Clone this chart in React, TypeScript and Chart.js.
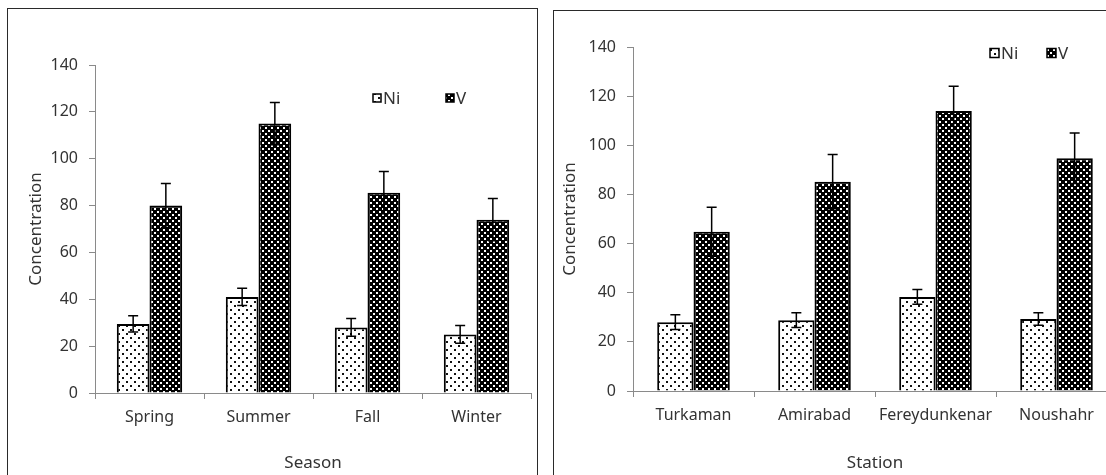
import React, { useEffect, useRef } from "react";
import { Chart, registerables } from "chart.js";

Chart.register(...registerables);

// ---------- data ----------
const seasons = ["Spring", "Summer", "Fall", "Winter"];
const seasonNi = [29.5, 41, 28, 25];
const seasonNiErr = [3.5, 3.7, 3.8, 3.8];
const seasonV = [80, 115, 85.5, 74];
const seasonVErr = [9.4, 9, 9, 9];

const stations = ["Turkaman", "Amirabad", "Fereydunkenar", "Noushahr"];
const stationNi = [28, 28.8, 38.3, 29.3];
const stationNiErr = [3, 3, 3, 2.5];
const stationV = [64.8, 85.2, 114, 94.7];
const stationVErr = [10, 11, 10, 10.3];

const yTicks = [0, 20, 40, 60, 80, 100, 120, 140];
const seriesNames = ["Ni", "V"];

const FONT = "'Noto Sans', 'DejaVu Sans', sans-serif";
const TEXT = "#333333";
const AXIS = "#8a8a8a";

function makeDotPattern(): CanvasPattern | string {
  const c = document.createElement("canvas");
  c.width = 8;
  c.height = 8;
  const g = c.getContext("2d")!;
  g.fillStyle = "#ffffff";
  g.fillRect(0, 0, 8, 8);
  g.fillStyle = "#111111";
  g.fillRect(2, 1, 2, 2);
  g.fillRect(6, 5, 2, 2);
  return g.createPattern(c, "repeat") || "#fff";
}

function makeCheckPattern(): CanvasPattern | string {
  const c = document.createElement("canvas");
  c.width = 6;
  c.height = 6;
  const g = c.getContext("2d")!;
  g.fillStyle = "#000000";
  g.fillRect(0, 0, 6, 6);
  g.fillStyle = "#ffffff";
  g.fillRect(1, 1, 2, 2);
  g.fillRect(4, 4, 2, 2);
  return g.createPattern(c, "repeat") || "#000";
}

const errorBarPlugin = {
  id: "errorBars",
  afterDatasetsDraw(chart: any, _args: any, opts: any) {
    const { ctx } = chart;
    const y = chart.scales.y;
    const errs: number[][] = opts.errors || [];
    ctx.save();
    ctx.strokeStyle = "#000";
    ctx.lineWidth = 1.5;
    chart.data.datasets.forEach((ds: any, i: number) => {
      const meta = chart.getDatasetMeta(i);
      meta.data.forEach((el: any, j: number) => {
        const v = ds.data[j];
        const e = (errs[i] || [])[j] || 0;
        const yt = y.getPixelForValue(v + e);
        const yb = y.getPixelForValue(v - e);
        const x = el.x;
        const cap = opts.cap || 5;
        ctx.beginPath();
        ctx.moveTo(x, yt);
        ctx.lineTo(x, yb);
        ctx.moveTo(x - cap, yt);
        ctx.lineTo(x + cap, yt);
        ctx.moveTo(x - cap, yb);
        ctx.lineTo(x + cap, yb);
        ctx.stroke();
      });
    });
    ctx.restore();
  },
};

const legendPlugin = {
  id: "patternLegend",
  afterDraw(chart: any, _args: any, opts: any) {
    const { ctx } = chart;
    const items: { x: number; label: string }[] = opts.items || [];
    const y = opts.y;
    const box = opts.box || 9;
    ctx.save();
    ctx.font = `${opts.fontSize || 16}px ${FONT}`;
    ctx.textBaseline = "middle";
    ctx.textAlign = "left";
    items.forEach((it, i) => {
      const ds = chart.data.datasets[i];
      ctx.fillStyle = ds.backgroundColor;
      ctx.fillRect(it.x, y - box / 2, box, box);
      ctx.strokeStyle = "#000";
      ctx.lineWidth = 1.5;
      ctx.strokeRect(it.x, y - box / 2, box, box);
      ctx.fillStyle = TEXT;
      ctx.fillText(it.label, it.x + box + 2, y + 1);
    });
    ctx.restore();
  },
};

function buildChart(
  canvas: HTMLCanvasElement,
  labels: string[],
  ni: number[],
  niErr: number[],
  v: number[],
  vErr: number[],
  xTitle: string,
  layout: any
) {
  const dots = makeDotPattern();
  const checks = makeCheckPattern();
  return new Chart(canvas, {
    type: "bar",
    data: {
      labels,
      datasets: [
        {
          label: seriesNames[0],
          data: ni,
          backgroundColor: dots as any,
          borderColor: "#000",
          borderWidth: 2,
          categoryPercentage: 0.6,
          barPercentage: 1.0,
        },
        {
          label: seriesNames[1],
          data: v,
          backgroundColor: checks as any,
          borderColor: "#000",
          borderWidth: 2,
          categoryPercentage: 0.6,
          barPercentage: 1.0,
        },
      ],
    },
    options: {
      animation: false,
      responsive: false,
      maintainAspectRatio: false,
      layout: { padding: layout.padding },
      plugins: {
        legend: { display: false },
        tooltip: { enabled: false },
        errorBars: { errors: [niErr, vErr], cap: 5 },
        patternLegend: layout.legend,
      } as any,
      scales: {
        x: {
          type: "category",
          offset: true,
          grid: {
            display: true,
            offset: true,
            drawOnChartArea: false,
            drawTicks: true,
            tickLength: 6,
            color: AXIS,
          },
          border: { display: true, color: AXIS, width: 1 },
          ticks: {
            color: TEXT,
            font: { family: FONT, size: 16 },
            padding: 9,
            maxRotation: 0,
            autoSkip: false,
          },
          title: {
            display: true,
            text: xTitle,
            color: TEXT,
            font: { family: FONT, size: 17 },
            padding: { top: 0, bottom: 2 },
          },
          afterFit: (s: any) => {
            s.height = layout.xHeight;
          },
        },
        y: {
          min: 0,
          max: 140,
          afterBuildTicks: (s: any) => {
            s.ticks = yTicks.map((t) => ({ value: t }));
          },
          grid: {
            display: true,
            drawOnChartArea: false,
            drawTicks: true,
            tickLength: 6,
            color: AXIS,
          },
          border: { display: true, color: AXIS, width: 1 },
          ticks: {
            color: TEXT,
            font: { family: FONT, size: 16 },
            padding: 11,
          },
          title: {
            display: true,
            text: "Concentration",
            color: TEXT,
            font: { family: FONT, size: 17 },
            padding: { top: layout.yTitlePad, bottom: 0 },
          },
          afterFit: (s: any) => {
            s.width = layout.yWidth;
          },
        },
      },
    },
    plugins: [errorBarPlugin, legendPlugin],
  } as any);
}

export default function App() {
  const leftRef = useRef<HTMLCanvasElement>(null);
  const rightRef = useRef<HTMLCanvasElement>(null);

  useEffect(() => {
    const a = buildChart(
      leftRef.current!,
      seasons,
      seasonNi,
      seasonNiErr,
      seasonV,
      seasonVErr,
      "Season",
      {
        padding: { left: 0, top: 65, right: 14, bottom: 0 },
        xHeight: 82,
        yWidth: 95,
        yTitlePad: 26,
        legend: {
          y: 98,
          box: 8,
          fontSize: 17,
          items: [
            { x: 373, label: seriesNames[0] },
            { x: 446, label: seriesNames[1] },
          ],
        },
      }
    );
    const b = buildChart(
      rightRef.current!,
      stations,
      stationNi,
      stationNiErr,
      stationV,
      stationVErr,
      "Station",
      {
        padding: { left: 0, top: 47, right: 11, bottom: 0 },
        xHeight: 84,
        yWidth: 85,
        yTitlePad: 12,
        legend: {
          y: 53,
          box: 9,
          fontSize: 17,
          items: [
            { x: 442, label: seriesNames[0] },
            { x: 499, label: seriesNames[1] },
          ],
        },
      }
    );
    return () => {
      a.destroy();
      b.destroy();
    };
  }, []);

  return (
    <div
      style={{
        position: "absolute",
        left: 0,
        top: 0,
        width: 1106,
        height: 475,
        overflow: "hidden",
        background: "#fff",
      }}
    >
      <div
        style={{
          position: "absolute",
          left: 7,
          top: 8,
          width: 531,
          height: 490,
          border: "1.5px solid #2a2a2a",
          boxSizing: "border-box",
        }}
      />
      <div
        style={{
          position: "absolute",
          left: 553,
          top: 10,
          width: 600,
          height: 490,
          border: "1.5px solid #2a2a2a",
          boxSizing: "border-box",
        }}
      />
      <canvas
        ref={leftRef}
        width={545}
        height={475}
        style={{ position: "absolute", left: 0, top: 0, width: 545, height: 475 }}
      />
      <canvas
        ref={rightRef}
        width={580}
        height={475}
        style={{ position: "absolute", left: 548, top: 0, width: 580, height: 475 }}
      />
    </div>
  );
}
